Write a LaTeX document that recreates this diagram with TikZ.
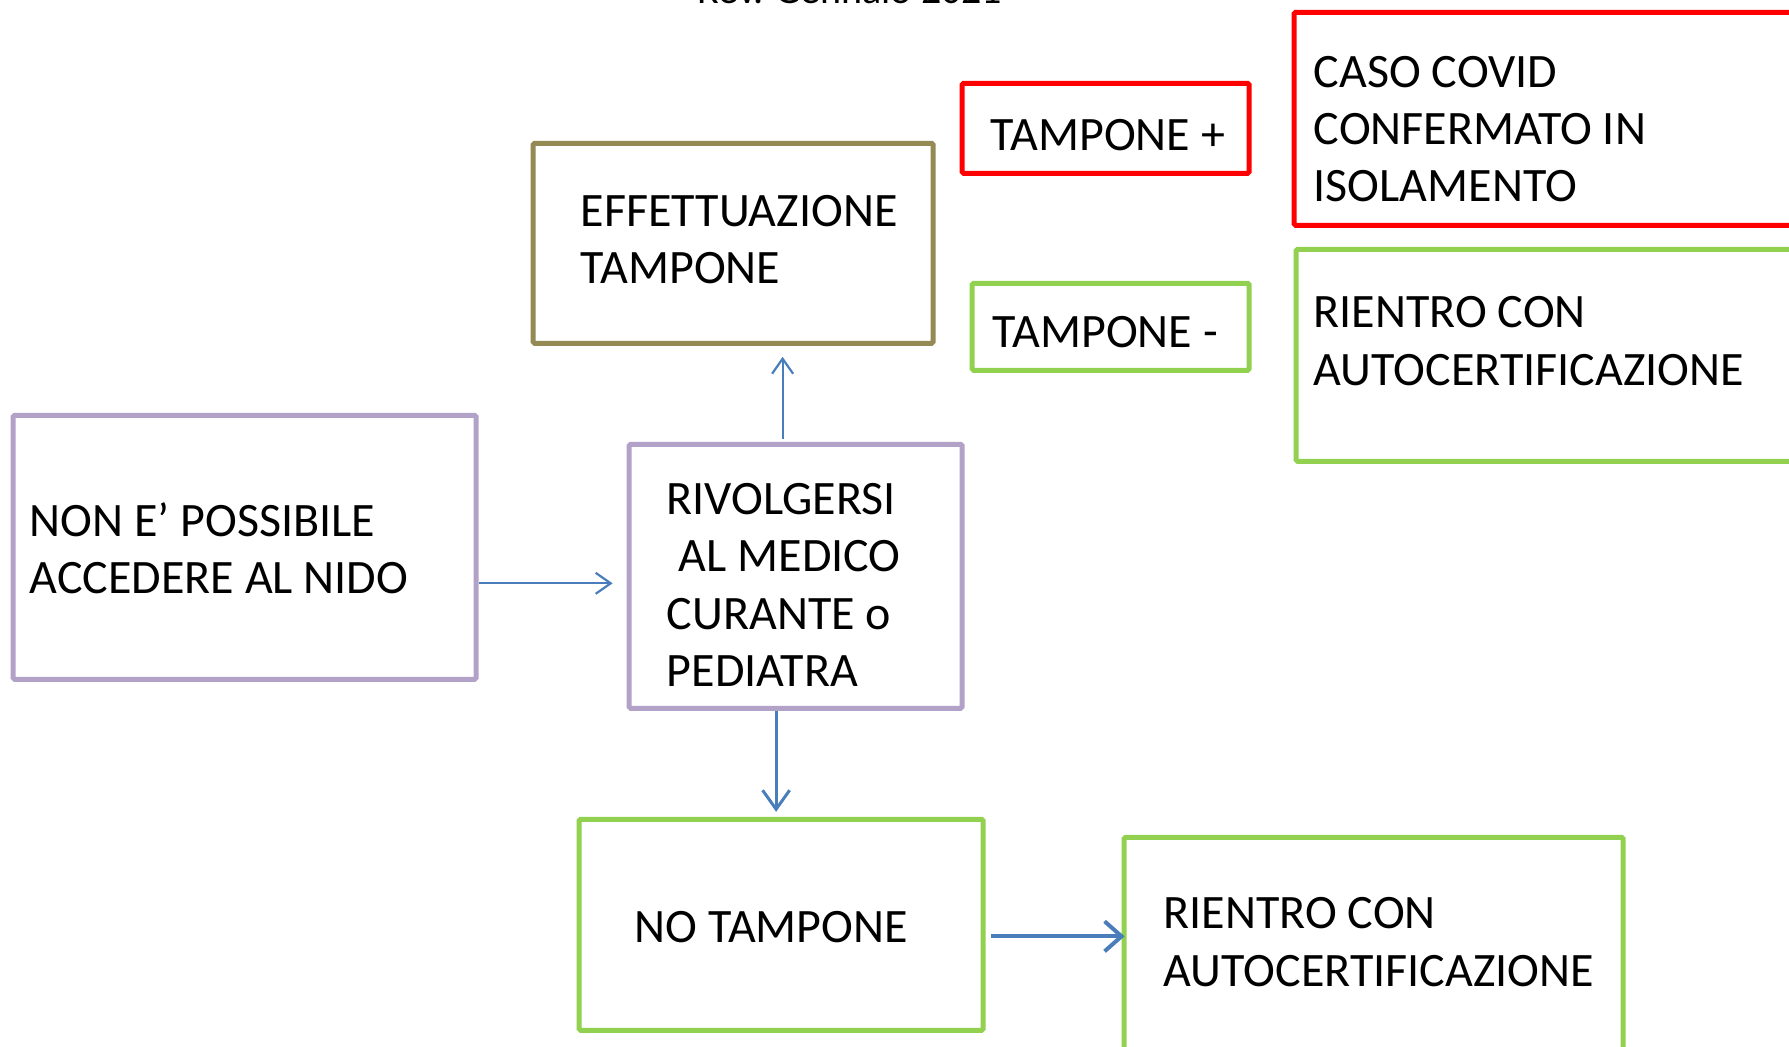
\documentclass[tikz,border=0pt]{standalone}
\usepackage{fontspec}
\setmainfont{Carlito}
\usetikzlibrary{arrows.meta}
\definecolor{purp}{HTML}{B3A2C7}
\definecolor{oliv}{HTML}{948A54}
\definecolor{redb}{HTML}{FF0000}
\definecolor{grn}{HTML}{92D050}
\definecolor{arrblue}{HTML}{4A7EBB}
\tikzset{
  box/.style={draw, line width=5pt, rounded corners=1.5pt, inner sep=0pt, anchor=north west},
  txt/.style={anchor=base west, inner sep=0pt, font=\fontsize{48}{58}\selectfont},
  arrthin/.style={draw=arrblue, line width=2.2pt, -{Straight Barb[length=15pt,width=21pt]}},
  arrmid/.style={draw=arrblue, line width=3pt, -{Straight Barb[length=19pt,width=27pt]}},
  arrthick/.style={draw=arrblue, line width=4pt, -{Straight Barb[length=17pt,width=30pt]}}
}
\begin{document}
\begin{tikzpicture}[x=1pt,y=-1pt]
\clip (0,0) rectangle (1789,1047);
\fill[white] (0,0) rectangle (1789,1047);
\begin{scope}[shift={(-2.4,-2.2)}]
% title (cut off at top)
\node[anchor=base west, inner sep=0pt, font=\fontsize{40}{48}\selectfont] (title) at (700,6) {Rev. Gennaio 2021};

% boxes
\node[box, draw=purp, minimum width=463pt, minimum height=264pt] (non) at (13,415) {};
\node[box, draw=oliv, minimum width=400pt, minimum height=200pt] (eff) at (533,143) {};
\node[box, draw=redb, minimum width=287pt, minimum height=90pt] (tp) at (962,83) {};
\node[box, draw=grn, minimum width=277pt, minimum height=87pt] (tm) at (972,283) {};
\node[box, draw=redb, minimum width=600pt, minimum height=213pt] (caso) at (1294,12) {};
\node[box, draw=grn, minimum width=600pt, minimum height=212pt] (rienA) at (1296,249) {};
\node[box, draw=purp, minimum width=333pt, minimum height=264pt] (riv) at (629,444) {};
\node[box, draw=grn, minimum width=404pt, minimum height=211pt] (notp) at (579,819) {};
\node[box, draw=grn, minimum width=499pt, minimum height=300pt] (rienB) at (1124,837) {};

% texts
\node[txt] (n1) at (32,539) {NON E’ POSSIBILE};
\node[txt] (n2) at (32,596) {ACCEDERE AL NIDO};
\node[txt] (e1) at (583,229) {EFFETTUAZIONE};
\node[txt] (e2) at (583,286) {TAMPONE};
\node[txt] (p1) at (993,153) {TAMPONE +};
\node[txt] (m1) at (995,350) {TAMPONE -};
\node[txt] (c1) at (1316,90) {CASO COVID};
\node[txt] (c2) at (1316,147) {CONFERMATO IN};
\node[txt] (c3) at (1316,204) {ISOLAMENTO};
\node[txt] (ra1) at (1316,330) {RIENTRO CON};
\node[txt] (ra2) at (1316,388) {AUTOCERTIFICAZIONE};
\node[txt] (r1) at (669,516.5) {RIVOLGERSI};
\node[txt] (r2) at (681,573.5) {AL MEDICO};
\node[txt] (r3) at (669,631.5) {CURANTE o};
\node[txt] (r4) at (669,688.5) {PEDIATRA};
\node[txt] (nt) at (637,945) {NO TAMPONE};
\node[txt] (rb1) at (1166,931) {RIENTRO CON};
\node[txt] (rb2) at (1166,989) {AUTOCERTIFICAZIONE};

% connectors
\coordinate (ya) at (0,585.5);
\coordinate (xu) at (785,0);
\coordinate (xd) at (778.5,0);
\coordinate (yb) at (0,938.5);
\draw[arrthin, shorten >=14pt] (non.east |- ya) -- (riv.west |- ya);
\draw[arrthin, shorten <=3pt, shorten >=11pt] (riv.north -| xu) -- (eff.south -| xu);
\draw[arrmid, shorten >=5pt] (riv.south -| xd) -- (notp.north -| xd);
\draw[arrthick, shorten <=5pt, shorten >=-3pt] (notp.east |- yb) -- (rienB.west |- yb);
\end{scope}
\end{tikzpicture}
\end{document}
